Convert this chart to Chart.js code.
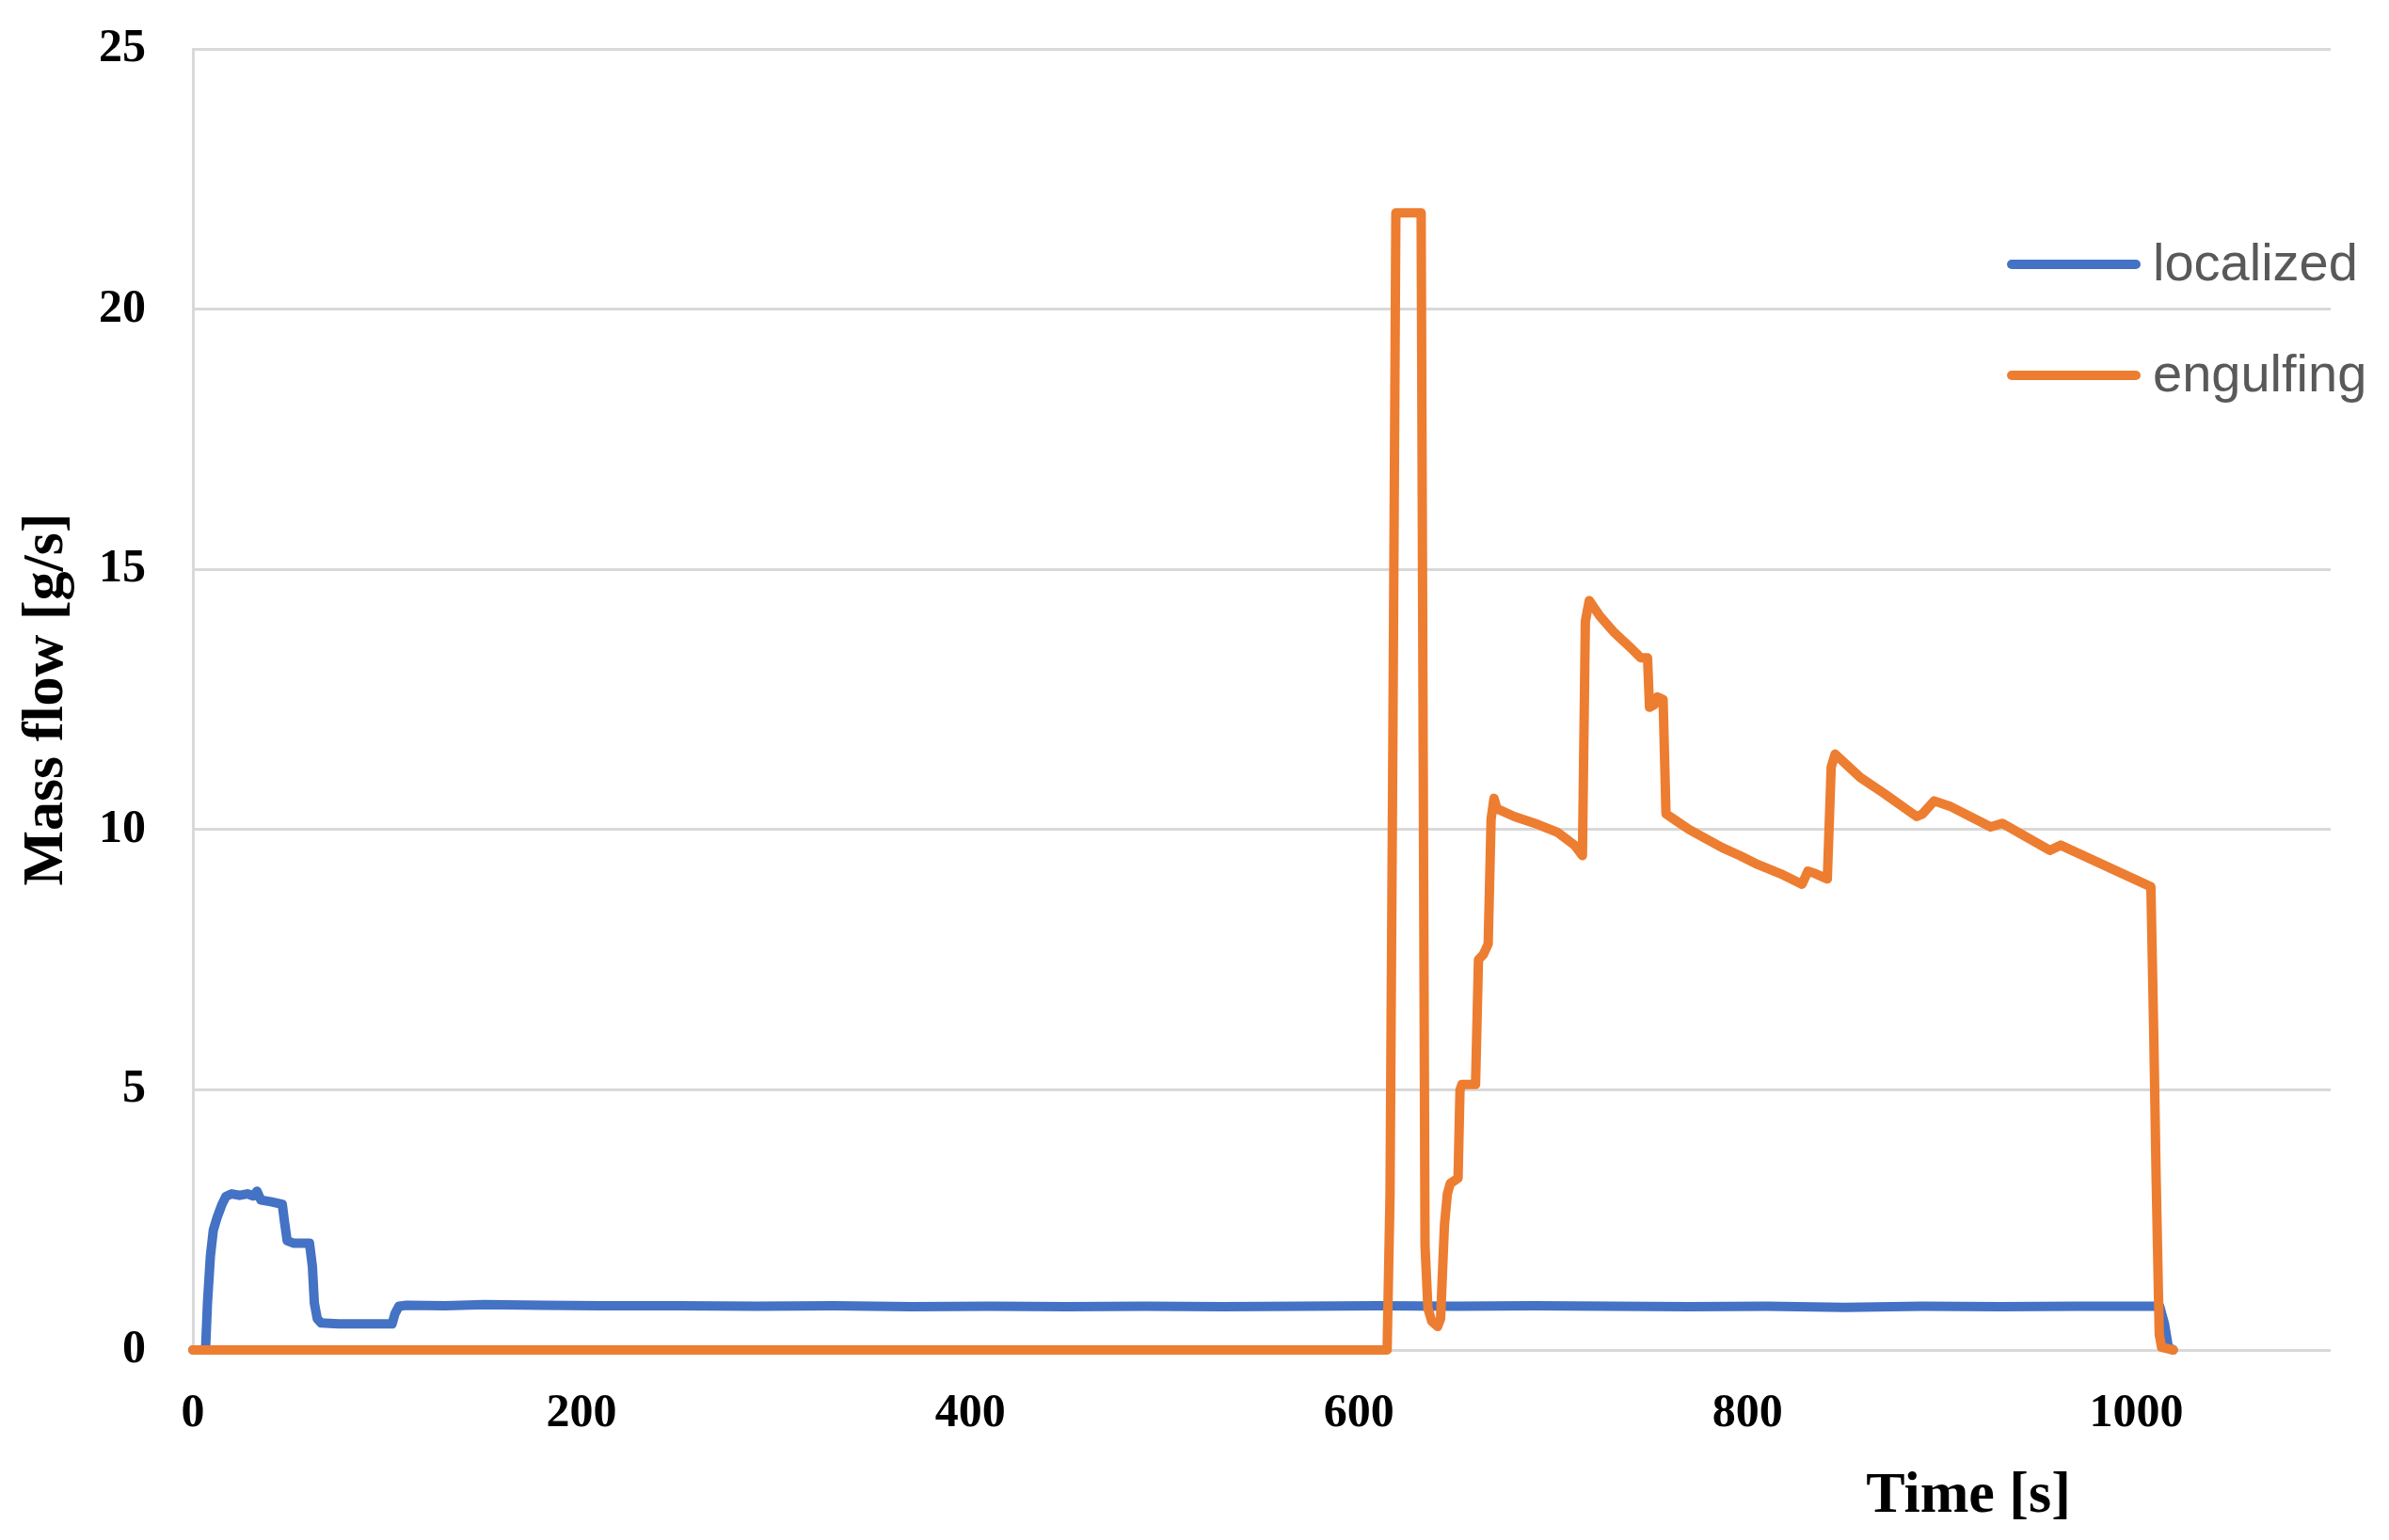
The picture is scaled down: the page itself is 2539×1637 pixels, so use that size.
<!DOCTYPE html>
<html>
<head>
<meta charset="utf-8">
<title>Mass flow</title>
<script src="https://cdn.jsdelivr.net/npm/chart.js@4.4.1/dist/chart.umd.min.js"></script>
<style>
  html, body { margin: 0; padding: 0; background: #fff; }
</style>
</head>
<body>
<canvas id="chart" width="2539" height="1637"></canvas>
<script>
// series
const seriesNames = ['localized', 'engulfing'];
const seriesColors = ['#4472C4', '#ED7D31'];

// localized: time [s] / mass flow [g/s]
const localizedTime = [0, 6.5, 7.5, 9, 10.5, 12.5, 15, 17, 20, 24,
  28, 31, 33, 35, 40, 46, 47, 48.5, 52, 60,
  61.5, 62.5, 64, 66, 75, 90, 102.5, 104, 106, 110,
  130, 150, 180, 210, 250, 290, 330, 370, 410, 450,
  490, 530, 570, 610, 650, 690, 730, 770, 810, 850,
  890, 930, 970, 1000, 1012, 1014.5, 1016.5, 1019];
const localizedFlow = [0, 0, 0.9, 1.8, 2.3, 2.55, 2.8, 2.95, 3.0, 2.97,
  3.0, 2.96, 3.05, 2.88, 2.85, 2.8, 2.5, 2.1, 2.05, 2.05,
  1.6, 0.9, 0.6, 0.52, 0.5, 0.5, 0.5, 0.7, 0.84, 0.86,
  0.85, 0.87, 0.86, 0.85, 0.85, 0.84, 0.85, 0.83, 0.84, 0.83,
  0.84, 0.83, 0.84, 0.85, 0.84, 0.85, 0.84, 0.83, 0.84, 0.82,
  0.84, 0.83, 0.84, 0.84, 0.84, 0.5, 0.05, 0];

// engulfing: time [s] / mass flow [g/s]
const engulfingTime = [0, 614.5, 616, 617.5, 619, 632, 633, 634, 635.5, 637.5,
  640.5, 642, 643, 644, 645.5, 647, 651, 652, 653, 660,
  661.5, 664, 666.5, 668, 669.5, 671, 680, 692, 702, 711,
  715, 716.5, 718.5, 724, 731, 741, 745, 748.5, 749.5, 752,
  753.5, 756.5, 758, 762, 770, 787, 796, 804, 817, 828,
  831, 835, 841, 843, 845, 858, 870, 887, 890, 896,
  904, 925, 931, 955.5, 961, 1007.5, 1009, 1010.2, 1011.8, 1013,
  1019];
const engulfingFlow = [0, 0, 3, 12, 21.85, 21.85, 12, 2, 0.8, 0.55,
  0.45, 0.6, 1.5, 2.4, 3.0, 3.2, 3.3, 5.0, 5.1, 5.1,
  7.5, 7.6, 7.8, 10.2, 10.6, 10.4, 10.25, 10.1, 9.95, 9.7,
  9.5, 14.0, 14.4, 14.1, 13.8, 13.45, 13.3, 13.3, 12.35, 12.4,
  12.55, 12.5, 10.3, 10.2, 10.0, 9.65, 9.5, 9.35, 9.15, 8.95,
  9.2, 9.15, 9.05, 11.2, 11.45, 11.0, 10.7, 10.25, 10.3, 10.55,
  10.45, 10.05, 10.12, 9.6, 9.7, 8.9, 6, 3.3, 0.3, 0.05,
  0];

// axes
const xTicks = [0, 200, 400, 600, 800, 1000];
const yTicks = [0, 5, 10, 15, 20, 25];
const xTitle = 'Time [s]';
const yTitle = 'Mass flow [g/s]';

const toPoints = (xs, ys) => xs.map((x, i) => ({ x: x, y: ys[i] }));

// legend at top right + x axis title off to the right, like the excel original
const extraText = {
  id: 'extraText',
  afterDraw(chart) {
    const ctx = chart.ctx;
    ctx.save();
    chart.data.datasets.forEach((ds, i) => {
      const y = 281 + i * 118;
      ctx.strokeStyle = ds.borderColor;
      ctx.lineWidth = 10;
      ctx.lineCap = 'round';
      ctx.beginPath();
      ctx.moveTo(2138, y);
      ctx.lineTo(2270, y);
      ctx.stroke();
      ctx.fillStyle = '#595959';
      ctx.font = '56px "Liberation Sans"';
      ctx.textAlign = 'left';
      ctx.textBaseline = 'alphabetic';
      ctx.fillText(ds.label, 2288, y + 17);
    });
    ctx.fillStyle = '#000';
    ctx.font = 'bold 62px "Liberation Serif"';
    ctx.textAlign = 'center';
    ctx.textBaseline = 'alphabetic';
    ctx.fillText(xTitle, 2092, 1607);
    ctx.restore();
  }
};

const tickFont = { family: '"Liberation Serif"', size: 50, weight: 'bold' };
const lineStyle = { borderWidth: 10, pointRadius: 0, tension: 0, borderJoinStyle: 'round', borderCapStyle: 'round', fill: false, clip: false };

new Chart(document.getElementById('chart'), {
  type: 'line',
  data: {
    datasets: [{
      label: seriesNames[0],
      data: toPoints(localizedTime, localizedFlow),
      borderColor: seriesColors[0],
      order: 1,
      ...lineStyle
    }, {
      label: seriesNames[1],
      data: toPoints(engulfingTime, engulfingFlow),
      borderColor: seriesColors[1],
      order: 0,
      ...lineStyle
    }]
  },
  options: {
    responsive: false,
    animation: false,
    layout: { padding: { top: 52, right: 62, left: 0, bottom: 0 } },
    plugins: {
      legend: { display: false },
      tooltip: { enabled: false }
    },
    scales: {
      x: {
        type: 'linear',
        min: 0,
        max: 1100,
        afterBuildTicks: (scale) => { scale.ticks = xTicks.map(v => ({ value: v })); },
        afterFit: (scale) => { scale.height = 202; scale.paddingLeft = 0; scale.paddingRight = 0; },
        grid: { display: false },
        border: { display: false },
        ticks: { font: tickFont, color: '#000', padding: 30, autoSkip: false, maxRotation: 0, callback: (v) => String(v) }
      },
      y: {
        min: 0,
        max: 25,
        afterBuildTicks: (scale) => { scale.ticks = yTicks.map(v => ({ value: v })); },
        afterFit: (scale) => { scale.width = 205; scale.paddingTop = 0; scale.paddingBottom = 0; },
        grid: { color: '#d9d9d9', lineWidth: 3, drawTicks: false },
        border: { display: true, color: '#d9d9d9', width: 3 },
        ticks: { font: tickFont, color: '#000', padding: 50, callback: (v) => String(v) },
        title: {
          display: true,
          text: yTitle,
          color: '#000',
          font: { family: '"Liberation Serif"', size: 62, weight: 'bold' },
          padding: { top: 13, bottom: 0 }
        }
      }
    }
  },
  plugins: [extraText]
});
</script>
</body>
</html>
